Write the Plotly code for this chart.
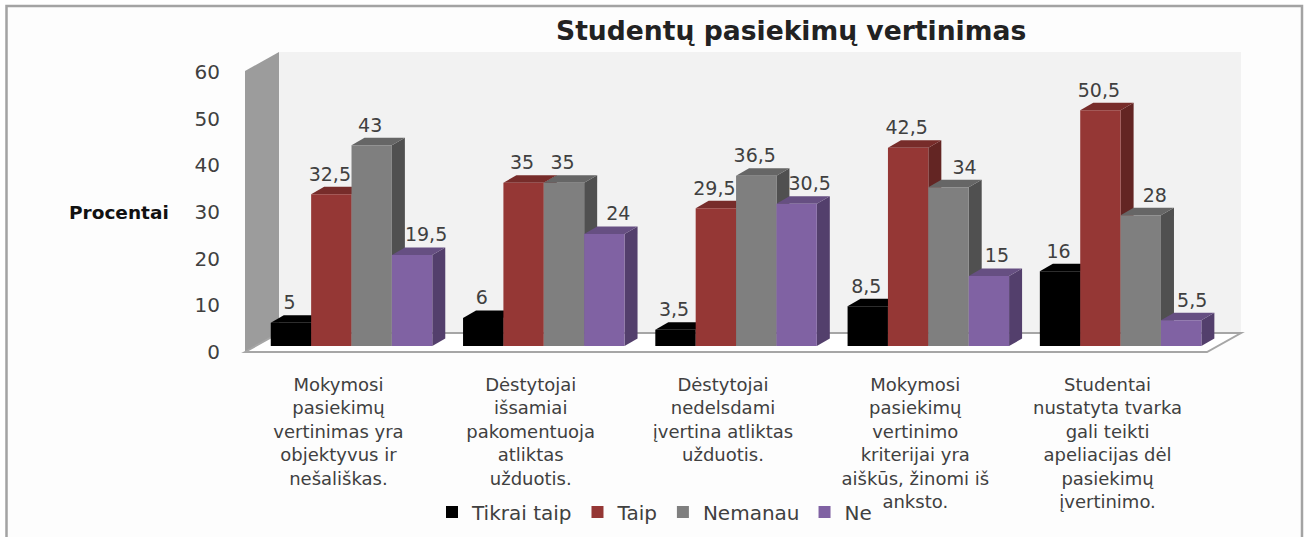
import plotly.graph_objects as go

W, H = 1308, 537

categories = [
    "Mokymosi<br>pasiekimų<br>vertinimas yra<br>objektyvus ir<br>nešališkas.",
    "Dėstytojai<br>išsamiai<br>pakomentuoja<br>atliktas<br>užduotis.",
    "Dėstytojai<br>nedelsdami<br>įvertina atliktas<br>užduotis.",
    "Mokymosi<br>pasiekimų<br>vertinimo<br>kriterijai yra<br>aiškūs, žinomi iš<br>anksto.",
    "Studentai<br>nustatyta tvarka<br>gali teikti<br>apeliacijas dėl<br>pasiekimų<br>įvertinimo.",
]
tikrai_taip = [5, 6, 3.5, 8.5, 16]
taip = [32.5, 35, 29.5, 42.5, 50.5]
nemanau = [43, 35, 36.5, 34, 28]
ne = [19.5, 24, 30.5, 15, 5.5]
y_ticks = [0, 10, 20, 30, 40, 50, 60]

series = [
    ("Tikrai taip", tikrai_taip, "#000000", "#000000", "#000000"),
    ("Taip", taip, "#953735", "#772c2a", "#632523"),
    ("Nemanau", nemanau, "#7f7f7f", "#666666", "#505050"),
    ("Ne", ne, "#8062a3", "#664f82", "#533f6c"),
]

FONT = "DejaVu Sans"
BAR_W = 0.21        # one bar, in category units
DEPTH_X = 0.0676    # 3d depth of a bar
DEPTH_Y = 1.6
BASE = 1.285        # bars stand a little behind the front edge of the floor
PX_PER_CAT = 192.25

# data labels that the original moved sideways off their bars, in pixels
label_nudge = {
    (2, 3): 16, (2, 4): 14,
    (3, 0): 14, (3, 1): 14, (3, 2): 13, (3, 3): 8, (3, 4): 11,
}


def px_x(p):
    return p / W


def px_y(p):
    return 1 - p / H


def poly(points, color, xref="paper", yref="paper", line=None):
    path = "M" + " L".join(f"{x},{y}" for x, y in points) + " Z"
    return dict(type="path", path=path, xref=xref, yref=yref, fillcolor=color,
                line=line or dict(width=0), layer="below")


def wall(points, color, line=None):
    return poly([(px_x(x), px_y(y)) for x, y in points], color, line=line)


shapes = [
    # frame
    dict(type="rect", xref="paper", yref="paper", x0=px_x(6.5), x1=px_x(1302), y0=-0.1, y1=px_y(6),
         line=dict(color="#a3a3a3", width=2.5), fillcolor="#fdfdfd", layer="below"),
    # back wall, left wall, floor
    wall([(279, 52), (1241, 52), (1241, 333), (279, 333)], "#f2f2f2"),
    wall([(245, 71), (279, 52), (279, 333), (245, 352)], "#9c9c9c"),
    wall([(245, 352), (279, 333), (1241, 333), (1207, 352)], "#ffffff",
         line=dict(color="#a6a6a6", width=2)),
]

# depth faces, left to right, the front faces of the bars cover what they should
for g in range(len(categories)):
    for i, (name, vals, front, top, side) in enumerate(series):
        left = g + (i - 2) * BAR_W
        right = left + BAR_W
        v = vals[g] + BASE
        shapes.append(poly([(right, BASE), (right + DEPTH_X, BASE + DEPTH_Y),
                            (right + DEPTH_X, v + DEPTH_Y), (right, v)], side, "x", "y"))
        shapes.append(poly([(left, v), (left + DEPTH_X, v + DEPTH_Y),
                            (right + DEPTH_X, v + DEPTH_Y), (right, v)], top, "x", "y"))

fig = go.Figure()
xs = list(range(len(categories)))
for name, vals, front, top, side in series:
    fig.add_trace(go.Bar(x=xs, y=vals, base=BASE, name=name, marker=dict(color=front, line=dict(width=0)),
                         hoverinfo="skip"))

for i, (name, vals, front, top, side) in enumerate(series):
    fig.add_trace(go.Scatter(
        x=[g + (i - 1.5) * BAR_W + (label_nudge.get((i, g), -1.5)) / PX_PER_CAT for g in xs],
        y=[v + BASE + DEPTH_Y + 0.3 for v in vals],
        mode="text",
        text=[f"{v:g}".replace(".", ",") for v in vals],
        textposition="top center",
        textfont=dict(family=FONT, size=19, color="#404040"),
        showlegend=False,
        hoverinfo="skip",
    ))

fig.update_layout(
    width=W,
    height=H,
    autosize=False,
    margin=dict(l=0, r=0, t=0, b=0, autoexpand=False),
    paper_bgcolor="#ffffff",
    plot_bgcolor="rgba(0,0,0,0)",
    barmode="group",
    bargap=0.16,
    bargroupgap=0,
    shapes=shapes,
    font=dict(family=FONT, color="#404040"),
    xaxis=dict(
        domain=[px_x(245), px_x(1250)],
        range=[-0.554, 4.673],
        tickmode="array",
        tickvals=[g - 0.068 for g in xs],
        ticktext=categories,
        tickfont=dict(family=FONT, size=18, color="#404040"),
        ticklabelstandoff=20,
        ticks="",
        showgrid=False,
        zeroline=False,
        showline=False,
    ),
    yaxis=dict(
        domain=[px_y(352), px_y(72)],
        range=[0, 60],
        tickmode="array",
        tickvals=y_ticks,
        tickfont=dict(family=FONT, size=20, color="#404040"),
        ticklabelstandoff=24,
        ticks="",
        showgrid=False,
        zeroline=False,
        showline=False,
    ),
    legend=dict(
        orientation="h",
        x=px_x(432),
        y=px_y(512),
        xanchor="left",
        yanchor="middle",
        bgcolor="rgba(0,0,0,0)",
        font=dict(family=FONT, size=20, color="#404040"),
    ),
    annotations=[
        dict(text="<b>Studentų pasiekimų vertinimas</b>", xref="paper", yref="paper",
             x=px_x(791), y=px_y(31), showarrow=False, xanchor="center", yanchor="middle",
             font=dict(family=FONT, size=26.6, color="#222222")),
        dict(text="<b>Procentai</b>", xref="paper", yref="paper",
             x=px_x(119), y=px_y(212), showarrow=False, xanchor="center", yanchor="middle",
             font=dict(family=FONT, size=18.5, color="#111111")),
    ],
)

# the page's default body margin would push the chart off its pixel positions
fig.write_html("out.html", config=dict(displayModeBar=False),
               post_script="document.body.style.margin = '0';")
